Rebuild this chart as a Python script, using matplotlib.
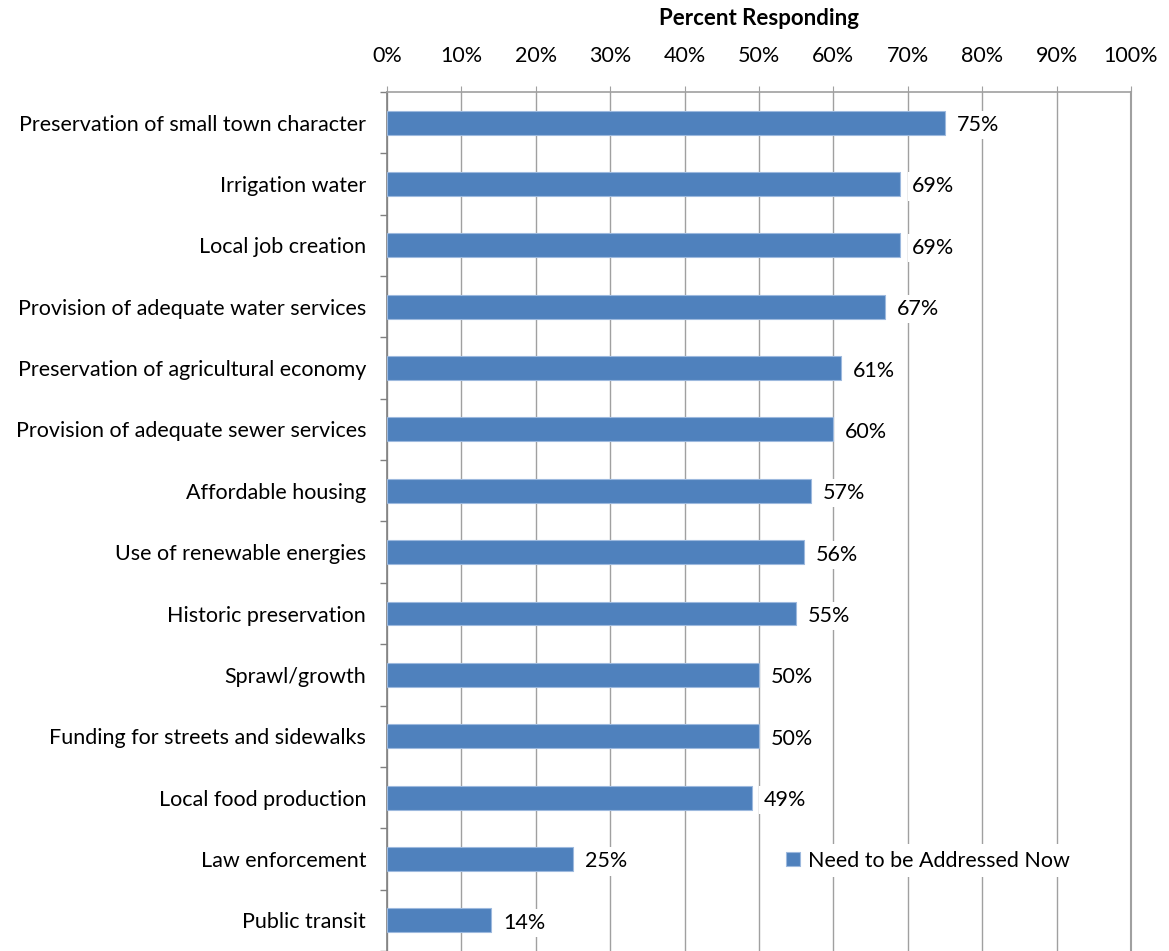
import numpy as np
import matplotlib.pyplot as plt
from matplotlib.ticker import MultipleLocator, PercentFormatter

plt.rcParams['font.family'] = ['Lato', 'DejaVu Sans']

# Survey data
categories = [
    'Preservation of small town character',
    'Irrigation water',
    'Local job creation',
    'Provision of adequate water services',
    'Preservation of agricultural economy',
    'Provision of adequate sewer services',
    'Affordable housing',
    'Use of renewable energies',
    'Historic preservation',
    'Sprawl/growth',
    'Funding for streets and sidewalks',
    'Local food production',
    'Law enforcement',
    'Public transit',
]
values = [75, 69, 69, 67, 61, 60, 57, 56, 55, 50, 50, 49, 25, 14]

bar_color = '#4F81BD'
grid_color = '#A0A0A0'
fs = 15.5

fig = plt.figure(figsize=(11.69, 9.51), dpi=100)
ax = fig.add_axes([0.331, 0.0, 0.6365, 0.9033])

y = np.arange(len(categories))
ax.barh(y, values, height=0.39, color=bar_color, edgecolor='#9DB9DE',
        linewidth=0.8, label='Need to be Addressed Now', zorder=3)

for yi, v in zip(y, values):
    ax.text(v + 1.6, yi + 0.04, f'{v}%', va='center', ha='left', fontsize=fs,
            bbox=dict(facecolor='white', edgecolor='none', pad=3), zorder=4)

ax.set_xlim(0, 100)
ax.set_ylim(len(categories) - 0.5, -0.5)
ax.xaxis.set_major_locator(MultipleLocator(10))
ax.xaxis.set_major_formatter(PercentFormatter(decimals=0))
ax.xaxis.tick_top()
ax.xaxis.set_label_position('top')
ax.set_xlabel('Percent Responding', fontsize=16, fontweight='bold', labelpad=15)
ax.tick_params(axis='x', length=4, color=grid_color, labelsize=fs, pad=15)

ax.set_yticks(y)
ax.set_yticklabels(categories, fontsize=fs)
ax.set_yticks(np.arange(-0.5, len(categories), 1), minor=True)
ax.tick_params(axis='y', which='major', length=0, pad=15)
ax.tick_params(axis='y', which='minor', length=5, color='#808080', width=1)

ax.grid(axis='x', color=grid_color, linewidth=1, zorder=0)
ax.spines['bottom'].set_visible(False)
ax.spines['top'].set_color(grid_color)
ax.spines['top'].set_linewidth(1.2)
ax.spines['right'].set_color(grid_color)
ax.spines['right'].set_linewidth(1.5)
ax.spines['left'].set_color('#808080')
ax.spines['left'].set_linewidth(1.2)

ax.legend(loc='center', bbox_to_anchor=(0.727, 0.105), frameon=True,
          facecolor='white', edgecolor='none', fontsize=fs, handlelength=0.65,
          handleheight=0.65, handletextpad=0.4, borderpad=0.3, framealpha=1)

fig.savefig('out.png', dpi=100)
